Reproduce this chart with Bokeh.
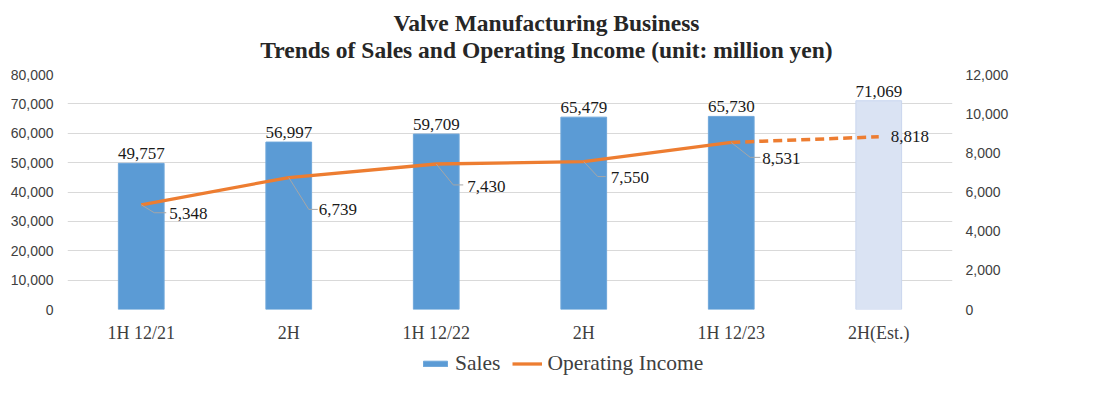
from bokeh.plotting import figure
from bokeh.layouts import column
from bokeh.models import (Range1d, LinearAxis, FixedTicker, NumeralTickFormatter,
                          Legend, LegendItem, Label, LabelSet, ColumnDataSource)
from bokeh.embed import file_html
from bokeh.resources import INLINE

categories = ["1H 12/21", "2H", "1H 12/22", "2H", "1H 12/23", "2H(Est.)"]
sales = [49757, 56997, 59709, 65479, 65730, 71069]
income = [5348, 6739, 7430, 7550, 8531, 8818]
estimate = [False, False, False, False, False, True]
left_ticks = [0, 10000, 20000, 30000, 40000, 50000, 60000, 70000, 80000]
right_ticks = [0, 2000, 4000, 6000, 8000, 10000, 12000]
title_lines = ["Valve Manufacturing Business",
               "Trends of Sales and Operating Income (unit: million yen)"]
series_names = ["Sales", "Operating Income"]

# label layout (pixels, relative to the data point): elbow dx,dy ; end dx ; text dx,dy
lab_elbow = [(13, 8), (20, 32), (17, 21), (14, 15), (19, 15), None]
lab_end_dx = [25, 29, 27, 22, 29, None]
lab_text = [(28, 9), (30, 32), (31, 23), (27, 16), (31, 16), (12, 0)]

W = 1077
FL, FR = 67, 952
TITLE_CX = 546
BLUE, LIGHT, ORANGE = "#5B9BD5", "#DAE3F3", "#ED7D31"

# ---------------- header (titles) ----------------
HH = 66
head = figure(width=W, height=HH, output_backend="svg", toolbar_location=None,
              x_range=Range1d(0, 1), y_range=Range1d(0, 1),
              x_axis_type=None, y_axis_type=None, min_border=0)
head.outline_line_color = None
head.grid.visible = False
for txt, base in zip(title_lines, [22, 49]):
    head.add_layout(Label(x=TITLE_CX - FL, y=HH - base, x_units="screen", y_units="screen",
                          text=txt, text_align="center", text_baseline="alphabetic",
                          text_font="Liberation Serif", text_font_size="23.5px",
                          text_font_style="bold", text_color="#262626"))

# ---------------- main chart ----------------
FT, FB = 8, 244
HM = 279
fw, fh = FR - FL, FB - FT
n = len(categories)
xs = list(range(n))

p = figure(width=W, height=HM, output_backend="svg", toolbar_location=None,
           x_range=Range1d(-0.5, n - 0.5), y_range=Range1d(0, 80000),
           min_border_left=FL, min_border_right=W - FR, min_border_top=FT,
           min_border_bottom=HM - FB)
p.extra_y_ranges = {"inc": Range1d(0, 12000)}
p.outline_line_color = None

px_x = n / fw
px_y = 12000 / fh

colors = [LIGHT if e else BLUE for e in estimate]
lines_c = ["#C9D6EE" if e else "#6FA7DA" for e in estimate]
bsrc = ColumnDataSource(dict(x=xs, top=sales, color=colors, lc=lines_c,
                             lab=[f"{v:,}" for v in sales]))
p.vbar(x="x", top="top", width=0.31, fill_color="color", line_color="lc",
       line_width=1, source=bsrc)

act = [i for i in range(n) if not estimate[i]]
est_idx = [act[-1]] + [i for i in range(n) if estimate[i]]
p.line([xs[i] for i in act], [income[i] for i in act], y_range_name="inc",
       line_color=ORANGE, line_width=3.3)
p.line([xs[i] for i in est_idx], [income[i] for i in est_idx], y_range_name="inc",
       line_color=ORANGE, line_width=3.5, line_dash="9 5")

mx, my = [], []
for i in range(n):
    if lab_elbow[i] is None:
        continue
    ex, ey = lab_elbow[i]
    mx.append([xs[i], xs[i] + ex * px_x, xs[i] + lab_end_dx[i] * px_x])
    my.append([income[i], income[i] - ey * px_y, income[i] - ey * px_y])
p.multi_line(mx, my, y_range_name="inc", line_color="#A6A6A6", line_width=1)

p.add_layout(LabelSet(x="x", y="top", text="lab", source=bsrc, text_align="center",
                      text_baseline="bottom", y_offset=4, text_font_size="17px",
                      text_font="Liberation Sans", text_color="#1a1a1a"))
isrc = ColumnDataSource(dict(x=xs, y=income, lab=[f"{v:,}" for v in income],
                             dx=[t[0] for t in lab_text], dy=[-t[1] for t in lab_text]))
p.add_layout(LabelSet(x="x", y="y", text="lab", source=isrc, y_range_name="inc",
                      x_offset="dx", y_offset="dy", text_align="left",
                      text_baseline="middle", text_font_size="17px",
                      text_font="Liberation Sans", text_color="#1a1a1a"))

p.xaxis.ticker = FixedTicker(ticks=xs)
p.xaxis.major_label_overrides = {i: c for i, c in enumerate(categories)}
p.xaxis.major_label_text_font = "Liberation Serif"
p.xaxis.major_label_text_font_size = "18px"
p.xaxis.major_label_text_color = "#404040"
p.xaxis.major_label_standoff = 7
p.xaxis.axis_line_color = None
p.xaxis.major_tick_line_color = None
p.xaxis.minor_tick_line_color = None
p.xgrid.grid_line_color = None

p.yaxis.ticker = FixedTicker(ticks=left_ticks)
p.yaxis.formatter = NumeralTickFormatter(format="0,0")
p.ygrid.grid_line_color = "#D9D9D9"

ra = LinearAxis(y_range_name="inc", ticker=FixedTicker(ticks=right_ticks),
                formatter=NumeralTickFormatter(format="0,0"))
p.add_layout(ra, "right")
for ax, so in [(p.yaxis[0], 14), (ra, 13)]:
    ax.axis_line_color = None
    ax.major_tick_line_color = None
    ax.minor_tick_line_color = None
    ax.major_tick_out = 0
    ax.major_tick_in = 0
    ax.minor_tick_out = 0
    ax.major_label_text_font = "Liberation Sans"
    ax.major_label_text_font_size = "14px"
    ax.major_label_text_color = "#404040"
    ax.major_label_standoff = so

# ---------------- legend strip ----------------
HL = 40
lf = figure(width=W, height=HL, output_backend="svg", toolbar_location=None,
            x_range=Range1d(0, 1), y_range=Range1d(0, 1),
            x_axis_type=None, y_axis_type=None, min_border=0)
lf.outline_line_color = None
lf.grid.visible = False
# legend-only glyphs (hidden renderers; the legend shows them at full strength)
gb = lf.vbar(x=[0.5], top=[1], width=0.1, fill_color=BLUE, line_color="#6FA7DA",
             visible=False)
gl = lf.line([0, 1], [0.5, 0.5], line_color=ORANGE, line_width=3.3, visible=False)
legend = Legend(items=[LegendItem(label=series_names[0], renderers=[gb]),
                       LegendItem(label=series_names[1], renderers=[gl])],
                orientation="horizontal", location=(353, 9),
                label_text_font="Liberation Serif", label_text_font_size="21.5px",
                label_text_color="#404040", glyph_height=7, glyph_width=30,
                spacing=12, label_standoff=5, border_line_color=None,
                background_fill_alpha=0, padding=0, margin=0,
                inactive_fill_alpha=0)
lf.add_layout(legend, "center")

open("out.html", "w").write(file_html(column(head, p, lf), INLINE))
